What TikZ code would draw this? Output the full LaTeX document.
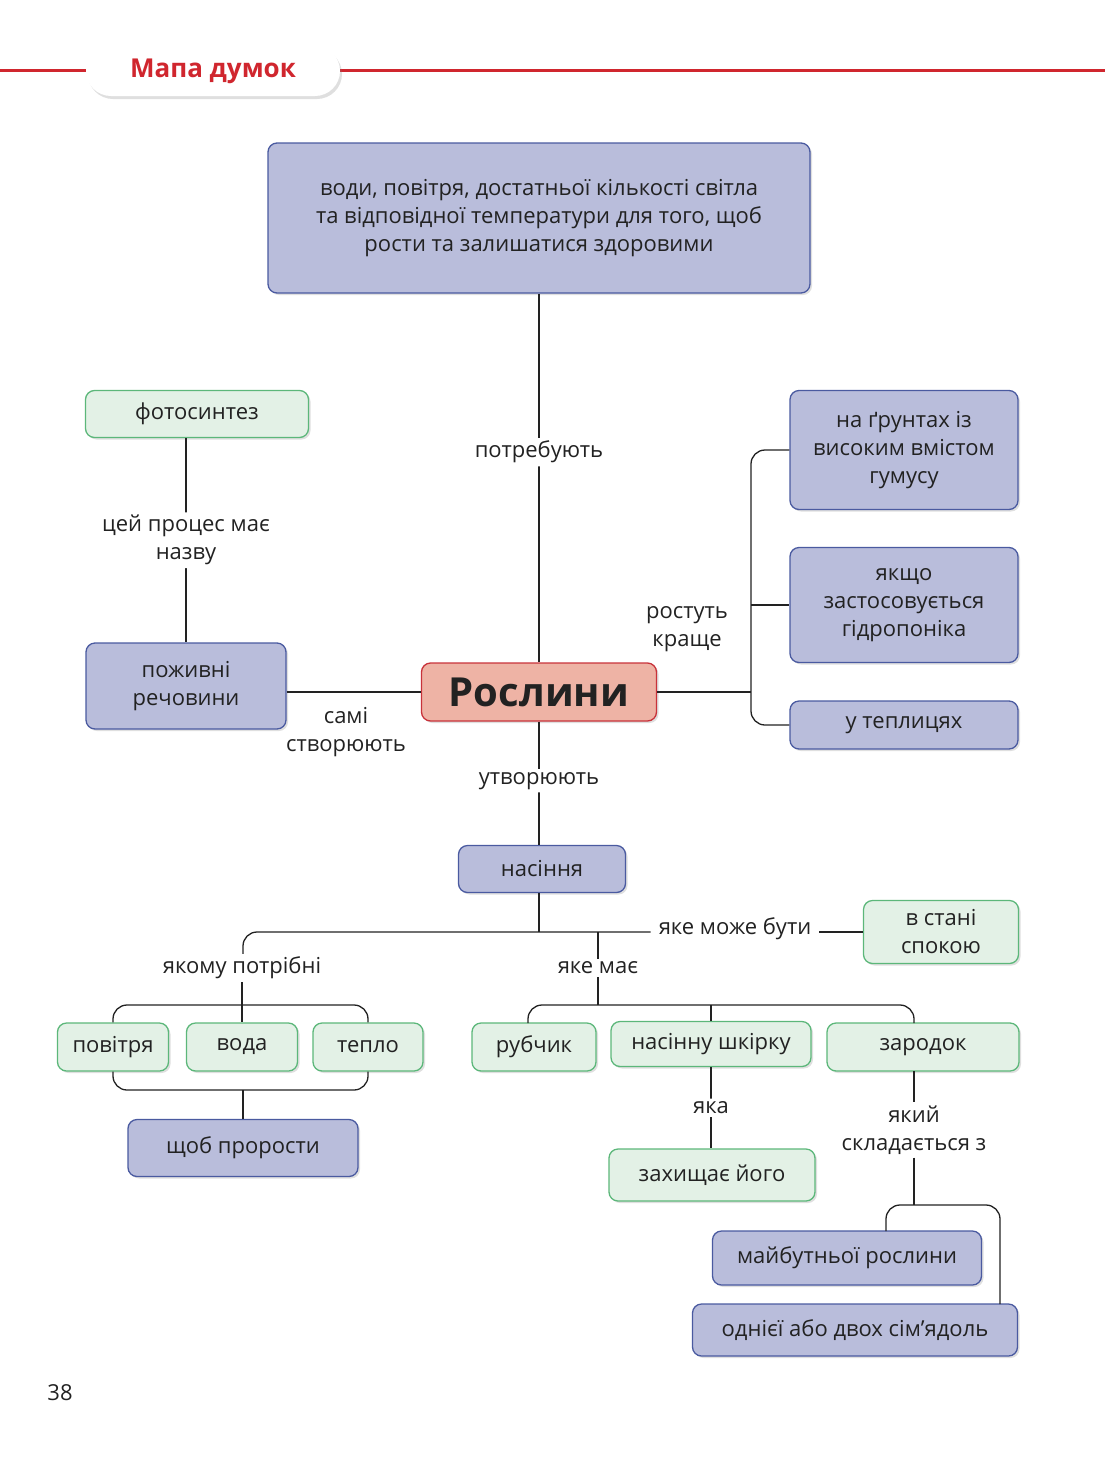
\documentclass[tikz,border=0pt]{standalone}
\usepackage{fontspec}
\setmainfont{Open Sans}
\usetikzlibrary{shadows}
\definecolor{bfill}{HTML}{B9BDDB}\definecolor{bdraw}{HTML}{4A5AA0}
\definecolor{gfill}{HTML}{E3F1E6}\definecolor{gdraw}{HTML}{5CB77A}
\definecolor{rfill}{HTML}{EEB3A5}\definecolor{rdraw}{HTML}{C8323A}
\definecolor{hred}{HTML}{D0262E}\definecolor{ink}{HTML}{222222}
\begin{document}
\begin{tikzpicture}[x=1pt,y=-1pt,
  base/.style={rounded corners=9pt,line width=1.3pt,align=center,inner sep=0pt,
    font=\fontsize{22}{28}\selectfont,text=ink,drop shadow={opacity=0.25,shadow xshift=2pt,shadow yshift=-2pt}},
  B/.style={base,fill=bfill,draw=bdraw},
  G/.style={base,fill=gfill,draw=gdraw},
  lab/.style={font=\fontsize{22}{28}\selectfont,text=ink,align=center,fill=white,inner sep=3pt},
  ln/.style={line width=1.3pt,draw=ink,rounded corners=14pt}]
\useasboundingbox (0,0) rectangle (1105,1462);
\draw[hred,line width=3pt] (0,70)--(1105,70);
\node[fill=white,rounded corners=25pt,minimum width=254pt,minimum height=50pt,drop shadow={opacity=0.25,shadow xshift=2pt,shadow yshift=-3pt},text=hred,font=\fontsize{26}{30}\selectfont\bfseries] (hdr) at (213,71) {Мапа думок};
\node[font=\fontsize{22}{26}\selectfont,text=ink] (pg) at (60,1393) {38};

\node[B,minimum width=542pt,minimum height=150pt] (top) at (539,218) {води, повітря, достатньої кількості світла\\та відповідної температури для того, щоб\\рости та залишатися здоровими};
\node[G,minimum width=223pt,minimum height=47pt] (photo) at (197,414) {фотосинтез};
\node[B,minimum width=200pt,minimum height=86pt] (food) at (186,686) {поживні\\речовини};
\node[base,fill=rfill,draw=rdraw,minimum width=235pt,minimum height=58pt,font=\fontsize{40}{44}\selectfont\bfseries] (pl) at (539,692) {Рослини};
\node[B,minimum width=228pt,minimum height=119pt] (g1) at (904,450) {на ґрунтах із\\високим вмістом\\гумусу};
\node[B,minimum width=228pt,minimum height=115pt] (g2) at (904,605) {якщо\\застосовується\\гідропоніка};
\node[B,minimum width=228pt,minimum height=48pt] (g3) at (904,725) {у теплицях};
\node[B,minimum width=167pt,minimum height=47pt] (seed) at (542,869) {насіння};
\node[G,minimum width=155pt,minimum height=63pt] (calm) at (941,932) {в стані\\спокою};
\node[G,minimum width=111pt,minimum height=48pt] (air) at (113,1047) {повітря};
\node[G,minimum width=111pt,minimum height=48pt] (water) at (242,1047) {вода};
\node[G,minimum width=110pt,minimum height=48pt] (heat) at (368,1047) {тепло};
\node[B,minimum width=230pt,minimum height=57pt] (grow) at (243,1148) {щоб прорости};
\node[G,minimum width=124pt,minimum height=48pt] (rub) at (534,1047) {рубчик};
\node[G,minimum width=200pt,minimum height=45pt] (skin) at (711,1044) {насінну шкірку};
\node[G,minimum width=192pt,minimum height=48pt] (emb) at (923,1047) {зародок};
\node[G,minimum width=206pt,minimum height=52pt] (prot) at (712,1175) {захищає його};
\node[B,minimum width=269pt,minimum height=54pt] (fut) at (847,1258) {майбутньої рослини};
\node[B,minimum width=325pt,minimum height=52pt] (cot) at (855,1330) {однієї або двох сім’ядоль};

% connectors
\draw[ln] (top.south) -- (pl.north) node[lab,pos=0.43] (l1) {потребують};
\draw[ln] (photo.south -| food.north) -- (food.north) node[lab,midway] (l2) {цей процес має\\назву};
\draw[ln] (food.east |- pl.west) -- (pl.west);
\node[lab,fill=none] (l3) at (346,732) {самі\\створюють};
\coordinate (br) at (751,692);
\draw[ln] (pl.east) -- (br);
\draw[ln] (g1.west) -| (br |- g2.west) |- (g3.west);
\draw[ln] (br |- g2.west) -- (g2.west);
\node[lab,fill=none] (l4) at (687,629) {ростуть\\краще};
\draw[ln] (pl.south) -- (pl.south |- seed.north) node[lab,pos=0.48] (l5) {утворюють};
\coordinate (j) at (539,932);
\draw[ln] (j |- seed.south) -- (j);
\node[lab,inner xsep=8pt] (l6) at (735,929) {яке може бути};
\draw[ln] (l6.west |- j) -- (j) -| (243,968);
\draw[ln] (l6.east |- calm.west) -- (calm.west);
\node[lab] (l7) at (242,968) {якому потрібні};
\draw[ln] (l7.south) -- (water.north);
\draw[ln] (air.north) |- (243,1005) -| (heat.north);
\draw[ln] (air.south) |- (243,1090) -| (heat.south);
\draw[ln] (243,1090) -- (grow.north);
\node[lab] (l8) at (598,968) {яке має};
\draw[ln] (598,932) -- (l8.north);
\draw[ln] (l8.south) -- (598,1005);
\draw[ln] (528,1023) |- (711,1005) -| (914,1023);
\draw[ln] (711,1005) -- (skin.north);
\draw[ln] (skin.south) -- (skin.south |- prot.north) node[lab,midway] (l9) {яка};
\node[lab] (l10) at (914,1130) {який\\складається з};
\draw[ln] (914,1071) -- (l10.north);
\draw[ln] (l10.south) -- (914,1205);
\draw[ln] (886,1231) |- (914,1205) -| (1000,1304);
\end{tikzpicture}
\end{document}
